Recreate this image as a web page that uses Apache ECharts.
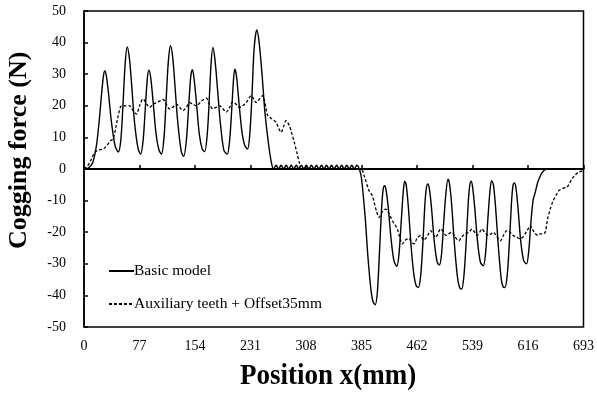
<!DOCTYPE html>
<html>
<head>
<meta charset="utf-8">
<script src="https://cdn.jsdelivr.net/npm/echarts@6/dist/echarts.min.js"></script>
<style>html,body{margin:0;padding:0;background:#fff}#c{width:597px;height:393px}</style>
</head>
<body>
<div id="c"></div>
<script>
var xTicks = [0, 77, 154, 231, 308, 385, 462, 539, 616, 693];
var yTicks = [-50, -40, -30, -20, -10, 0, 10, 20, 30, 40, 50];
var seriesNames = ['Basic model', 'Auxiliary teeth + Offset35mm'];

var basicModel = [
  [0,0],[6,0.3],[12,2],[17,7],[21,15],[24.5,24],[27,29.5],[29,31],[31,29.5],[34,24],[38,15],
  [43,7.5],[47.5,5.4],[51,9],[54,20],[57,33],[60,38.6],[63,35],[66,27],[70,15],[75,6.5],
  [78.5,4.7],[82,9],[85,19],[88,29],[90,31.3],[92.5,29],[96,21],[100,11],[104,6],[107.5,4.7],
  [111,10],[114,22],[117,34],[120,39],[123,35.5],[126,27],[130,15],[135,5.5],[138.3,4],
  [142,9],[145,19],[148,29],[150.3,31.4],[152.5,29],[156,21],[160,11],[164,6.3],[167.3,5.5],
  [171,11],[174,23],[176.5,34],[178.8,38.5],[181.5,35],[185,26],[189,15],[194,6],[198.7,4.7],
  [202,9],[205,19],[207.5,28.5],[209.2,31.6],[211.5,29.5],[215,21],[219,12],[223,7.5],[227,6.3],
  [230,11],[233,23],[236,38],[239.7,44],[243,40],[247,30],[251,18],[256,8],[260,2],[263,0],
  [266.5,1.2],[270,0],[273.5,1.2],[277,0],[280.5,1.2],[284,0],[287.5,1.2],[291,0],[294.5,1.2],
  [298,0],[301.5,1.2],[305,0],[308.5,1.2],[312,0],[315.5,1.2],[319,0],[322.5,1.2],[326,0],
  [329.5,1.2],[333,0],[336.5,1.2],[340,0],[343.5,1.2],[347,0],[350.5,1.2],[354,0],[357.5,1.2],
  [361,0],[364.5,1.2],[368,0],[371.5,1.2],[375,0],[378.5,1.2],[382,0],
  [385,-3],[390,-15],[394,-28],[398,-38],[401,-42],[404,-43],[407,-39],[410,-26],[413,-12],
  [415,-6.5],[417,-5.3],[419,-6.5],[422,-12],[426,-22],[430,-29],[434,-30.8],[437,-27],[440,-17],
  [443,-7],[445,-3.9],[447,-5],[450,-12],[454,-25],[458,-34],[461,-37],[464,-37.5],[467,-34],
  [470,-24],[473,-11],[475,-6],[477,-4.7],[479,-6],[482,-12],[486,-23],[490,-29.5],[493,-30.4],
  [496,-27],[499,-17],[502,-8],[505,-3.2],[507,-4.5],[510,-11],[514,-24],[518,-34],[521,-37.5],
  [524,-38],[527,-34],[530,-24],[533,-11],[535,-5.5],[537,-3.9],[539,-5.5],[542,-12],[546,-23],
  [550,-29.5],[554,-30.6],[557,-27],[560,-17],[563,-7.5],[565.5,-3.7],[568,-5],[571,-12],
  [575,-25],[579,-35],[581.5,-37.3],[584,-37.5],[587,-34],[590,-24],[593,-11],[595,-5.5],
  [597,-4.4],[599,-5.5],[602,-12],[606,-23],[610,-29],[614,-30],[617,-26],[620,-17],[623,-10],
  [626,-7.4],[629.5,-4.2],[633,-2.2],[636,-1],[639,-0.3],[642,0],[693,0]
];

var auxiliaryTeeth = [
  [0,0],[5,1],[10,3],[15,5.3],[20,6],[26.7,6.3],[32,7.5],[37,9],[40.5,9.5],[44,13],[47.5,16.9],
  [52,20],[58,20],[63.6,20],[68,18.5],[72.9,17.4],[77,20],[82,22.2],[87,20.5],[91.3,19.5],
  [96,20.5],[100.5,21],[105,21.5],[109.7,22],[114,20.5],[118.9,19],[123,19.5],[128.2,20.5],
  [133,19.5],[137.3,18.5],[142,19.5],[146.6,21],[151,20.5],[155.9,20],[163,21.5],[169.7,22.4],
  [174,20.5],[178.8,19],[183,19.5],[188,20],[193,19],[197.4,18],[202,19.5],[206.5,21.3],
  [211,20.5],[215.7,19.5],[220,20],[225,21],[232,23.2],[238.8,21],[243,22],[248,23.2],
  [251,21],[254.9,16.9],[260,16],[264,15.3],[266.5,14.8],[270,13],[273.4,11.6],[277,13.5],
  [280.3,15.3],[284.9,13.7],[288,11.5],[291.8,8.4],[295,5.5],[298.7,2.1],[301,0],
  [384,0],[388.6,-2.1],[395.5,-6.9],[400,-8.4],[402.5,-10.5],[406,-13.5],[409.4,-15.3],
  [414,-13.5],[418.6,-12.7],[423,-14],[427.8,-16.4],[431,-17.5],[434.7,-19],[438,-21.5],
  [441.6,-23.7],[446,-22.5],[450.9,-22],[454,-23],[457.8,-23.7],[462,-22],[467,-21],[471,-22.5],
  [474,-22],[478,-20.5],[481,-19.5],[484,-20.5],[487.8,-21.6],[491,-20.5],[494.7,-19],
  [499,-20],[502,-21],[506,-20.5],[510,-20],[515,-21.5],[520,-22.7],[524,-21.5],[529,-20.5],
  [534,-20],[538.4,-19],[542,-20],[545,-21],[549,-20],[552,-19],[556,-20],[561,-21],[565,-20.5],
  [568,-20],[573,-21.5],[577.7,-22.7],[582,-21],[586.8,-19.5],[591,-20],[595,-21],[600,-21.5],
  [605.3,-22.1],[609,-21.5],[612,-20.5],[616,-19],[619.2,-17.9],[622,-19],[626,-20.5],
  [630,-21],[633,-20.5],[637,-20.5],[640,-20],[643,-16],[646.8,-12.7],[651,-10],[656,-7.9],
  [659,-6.8],[662.9,-6.3],[666,-6],[669.8,-5.8],[673,-4.8],[676.7,-3.2],[681,-2],[686,-1],[693,-0.5]
];

var chart = echarts.init(document.getElementById('c'), null, {renderer: 'canvas'});
var font = '"Liberation Serif", "Times New Roman", serif';
chart.setOption({
  animation: false,
  backgroundColor: '#ffffff',
  color: ['#000', '#000'],
  grid: {left: 84, top: 11, width: 501, height: 316, show: true, borderColor: '#000', borderWidth: 1.5, backgroundColor: 'transparent'},
  legend: {
    data: seriesNames,
    orient: 'vertical',
    left: 108,
    top: 263,
    padding: 0,
    itemWidth: 25,
    itemHeight: 14,
    itemGap: 17,
    itemStyle: {opacity: 0},
    textStyle: {fontFamily: font, fontSize: 15.5, color: '#000', padding: [0, 0, 0, -5]}
  },
  xAxis: [{
    type: 'value', min: xTicks[0], max: xTicks[xTicks.length - 1], interval: 77,
    position: 'bottom',
    axisLine: {show: false, onZero: false},
    axisTick: {show: false},
    splitLine: {show: false},
    axisLabel: {fontFamily: font, fontSize: 14, color: '#000', margin: 12}
  }, {
    type: 'value', min: xTicks[0], max: xTicks[xTicks.length - 1], interval: 77,
    position: 'top',
    axisLine: {show: true, onZero: true, lineStyle: {color: '#000', width: 2}},
    axisTick: {show: true, inside: false, length: 4, lineStyle: {color: '#000', width: 1.5}},
    axisLabel: {show: false},
    splitLine: {show: false}
  }],
  yAxis: {
    type: 'value', min: yTicks[0], max: yTicks[yTicks.length - 1], interval: 10,
    axisLine: {show: true, onZero: false, lineStyle: {color: '#000', width: 1.5}},
    axisTick: {show: true, inside: true, length: 4, lineStyle: {color: '#000', width: 1.5}},
    splitLine: {show: false},
    axisLabel: {fontFamily: font, fontSize: 14, color: '#000', margin: 18}
  },
  graphic: [{
    type: 'text', x: 240, y: 361, scaleY: 1.12,
    style: {text: 'Position x(mm)', font: 'bold 27px ' + font, fill: '#000'}
  }, {
    type: 'text', rotation: Math.PI / 2, x: 6, y: 249,
    style: {text: 'Cogging force (N)', font: 'bold 26px ' + font, fill: '#000', textVerticalAlign: 'top'}
  }],
  series: [{
    name: seriesNames[0], type: 'line', data: basicModel, xAxisIndex: 0,
    symbol: 'none', smooth: 0.3,
    itemStyle: {color: '#000'},
    lineStyle: {color: '#000', width: 1.4, type: 'solid'}
  }, {
    name: seriesNames[1], type: 'line', data: auxiliaryTeeth, xAxisIndex: 0,
    symbol: 'none', smooth: 0.3,
    itemStyle: {color: '#000'},
    lineStyle: {color: '#000', width: 1.3, type: [3, 2]}
  }]
});
</script>
</body>
</html>
